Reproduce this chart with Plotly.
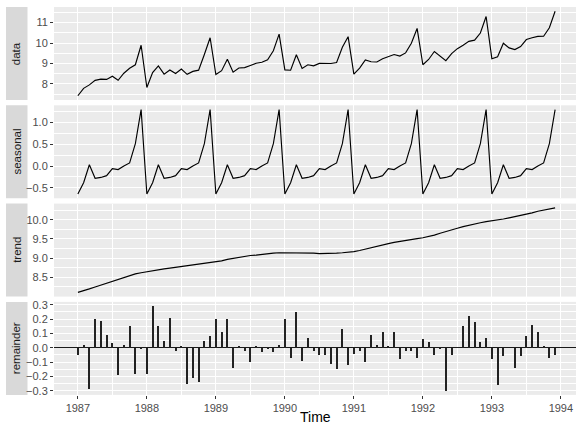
import plotly.graph_objects as go

# ---- data (monthly, Jan 1987 - Dec 1993) ----
start_year = 1987
n_months = 84
time = [start_year + i / 12 for i in range(n_months)]

data = [
    7.418, 7.782, 7.952, 8.174, 8.230, 8.220, 8.378, 8.179, 8.522, 8.768, 8.936, 9.891,
    7.824, 8.556, 8.885, 8.478, 8.683, 8.507, 8.729, 8.466, 8.612, 8.672, 9.442, 10.259,
    8.459, 8.649, 9.206, 8.576, 8.778, 8.800, 8.902, 9.009, 9.057, 9.179, 9.626, 10.436,
    8.686, 8.668, 9.427, 8.759, 8.937, 8.885, 9.002, 8.985, 8.999, 9.045, 9.793, 10.313,
    8.482, 8.775, 9.174, 9.085, 9.074, 9.231, 9.331, 9.438, 9.362, 9.518, 9.991, 10.716,
    8.938, 9.195, 9.586, 9.358, 9.141, 9.479, 9.725, 9.898, 10.083, 10.142, 10.492, 11.299,
    9.234, 9.330, 9.991, 9.762, 9.680, 9.831, 10.172, 10.261, 10.326, 10.336, 10.750, 11.559,
]

seasonal_cycle = [-0.64, -0.38, 0.03, -0.28, -0.26, -0.22, -0.06, -0.08, 0.00, 0.07, 0.51, 1.29]
seasonal = seasonal_cycle * 7

trend = [
    8.11, 8.15, 8.20, 8.25, 8.30, 8.35, 8.40, 8.45, 8.50, 8.55, 8.59, 8.62,
    8.65, 8.67, 8.70, 8.72, 8.74, 8.76, 8.78, 8.80, 8.82, 8.84, 8.87, 8.89,
    8.91, 8.93, 8.97, 9.00, 9.03, 9.05, 9.07, 9.08, 9.10, 9.12, 9.13, 9.14,
    9.14, 9.14, 9.14, 9.14, 9.13, 9.13, 9.12, 9.12, 9.12, 9.13, 9.14, 9.15,
    9.17, 9.20, 9.24, 9.28, 9.31, 9.34, 9.38, 9.41, 9.44, 9.47, 9.49, 9.51,
    9.53, 9.56, 9.60, 9.65, 9.70, 9.74, 9.78, 9.82, 9.86, 9.89, 9.92, 9.95,
    9.97, 9.99, 10.02, 10.05, 10.08, 10.11, 10.15, 10.18, 10.22, 10.25, 10.28, 10.31,
]

remainder = [
    -0.05, 0.02, -0.29, 0.20, 0.19, 0.09, 0.03, -0.19, 0.02, 0.15, -0.18, -0.01,
    -0.18, 0.29, 0.15, 0.05, 0.21, -0.02, 0.01, -0.25, -0.21, -0.24, 0.05, 0.08,
    0.20, 0.11, 0.20, -0.14, 0.01, -0.02, -0.10, 0.01, -0.03, -0.01, -0.03, 0.02,
    0.20, -0.07, 0.25, -0.09, 0.07, -0.02, -0.05, -0.05, -0.11, -0.15, 0.13, -0.12,
    -0.04, -0.02, -0.10, 0.09, 0.02, 0.11, 0.01, 0.11, -0.08, -0.02, -0.02, -0.07,
    0.06, 0.04, -0.05, -0.01, -0.30, -0.05, 0.00, 0.15, 0.22, 0.18, 0.04, 0.07,
    -0.08, -0.26, -0.06, 0.00, -0.14, -0.06, 0.08, 0.16, 0.11, 0.01, -0.07, -0.05,
]

panel_names = ["data", "seasonal", "trend", "remainder"]
x_ticks = [1987, 1988, 1989, 1990, 1991, 1992, 1993, 1994]
y_ticks = {
    "data": [8, 9, 10, 11],
    "seasonal": [-0.5, 0.0, 0.5, 1.0],
    "trend": [8.5, 9.0, 9.5, 10.0],
    "remainder": [-0.3, -0.2, -0.1, 0.0, 0.1, 0.2, 0.3],
}
y_tick_text = {
    "data": ["8", "9", "10", "11"],
    "seasonal": ["\u22120.5", "0.0", "0.5", "1.0"],
    "trend": ["8.5", "9.0", "9.5", "10.0"],
    "remainder": ["\u22120.3", "\u22120.2", "\u22120.1", "0.0", "0.1", "0.2", "0.3"],
}
y_minor = {"data": 0.5, "seasonal": 0.25, "trend": 0.25, "remainder": 0.05}

# ---- layout geometry (pixels) ----
W, H = 576, 424
panel_left, panel_right = 54, 576
tops = [7, 105.3, 203.6, 301.9]
ph = 93
strip_x0, strip_x1 = 6, 27.5

FONT = "Liberation Sans, Arial, Helvetica, sans-serif"
TICK_COL = "#4D4D4D"

fig = go.Figure()

series = {"data": data, "seasonal": seasonal, "trend": trend}
for i, name in enumerate(panel_names):
    ax = "" if i == 0 else str(i + 1)
    if name == "remainder":
        fig.add_trace(go.Bar(x=time, y=remainder, width=0.017,
                             marker=dict(color="#222222", line=dict(width=0)),
                             xaxis="x" + ax, yaxis="y" + ax, showlegend=False))
    else:
        fig.add_trace(go.Scatter(x=time, y=series[name], mode="lines",
                                 line=dict(color="black", width=1.15),
                                 xaxis="x" + ax, yaxis="y" + ax, showlegend=False))

def yrange(vals):
    lo, hi = min(vals), max(vals)
    pad = (hi - lo) * 0.05
    return [lo - pad, hi + pad]

ranges = {"data": yrange(data), "seasonal": yrange(seasonal),
          "trend": yrange(trend), "remainder": yrange(remainder)}

x_lo = start_year - (time[-1] - time[0]) * 0.05
px_per_year = 69.0
x_hi = x_lo + (panel_right - panel_left) / px_per_year

layout = dict(
    width=W, height=H,
    margin=dict(l=0, r=0, t=0, b=0, autoexpand=False),
    paper_bgcolor="white",
    plot_bgcolor="#EBEBEB",
    font=dict(family=FONT, size=11, color=TICK_COL),
    bargap=0,
    shapes=[], annotations=[],
)

for i, name in enumerate(panel_names):
    ax = "" if i == 0 else str(i + 1)
    top = tops[i]
    bottom = top + ph
    ydom = [1 - bottom / H, 1 - top / H]
    last = (i == len(panel_names) - 1)
    layout["xaxis" + ax] = dict(
        domain=[panel_left / W, panel_right / W],
        range=[x_lo, x_hi],
        anchor="y" + ax,
        automargin=False,
        tickmode="array", tickvals=x_ticks,
        ticktext=[str(t) for t in x_ticks],
        showticklabels=last,
        ticks="outside" if last else "",
        ticklen=3, tickwidth=1, tickcolor="#333333",
        tickfont=dict(size=11, color=TICK_COL, family=FONT),
        showgrid=True, gridcolor="white", gridwidth=1.1,
        minor=dict(tick0=1986.5, dtick=0.5, showgrid=True,
                   gridcolor="white", gridwidth=0.55, ticks=""),
        zeroline=False, showline=False,
        matches=None if i == 0 else "x",
    )
    layout["yaxis" + ax] = dict(
        domain=ydom,
        range=ranges[name],
        anchor="x" + ax,
        automargin=False,
        tickmode="array", tickvals=y_ticks[name], ticktext=y_tick_text[name],
        ticks="outside", ticklen=3, tickwidth=1, tickcolor="#333333",
        tickfont=dict(size=11, color=TICK_COL, family=FONT),
        showgrid=True, gridcolor="white", gridwidth=1.1,
        minor=dict(dtick=y_minor[name], tick0=0, showgrid=True,
                   gridcolor="white", gridwidth=0.55, ticks=""),
        zeroline=(name == "remainder"),
        zerolinecolor="#1a1a1a", zerolinewidth=1.1,
        showline=False,
    )
    # strip on the left
    layout["shapes"].append(dict(
        type="rect", xref="paper", yref="paper",
        x0=strip_x0 / W, x1=strip_x1 / W, y0=ydom[0], y1=ydom[1],
        fillcolor="#D9D9D9", line=dict(width=0), layer="below",
    ))
    layout["annotations"].append(dict(
        text=name, xref="paper", yref="paper",
        x=(strip_x0 + strip_x1) / 2 / W, y=(ydom[0] + ydom[1]) / 2,
        xanchor="center", yanchor="middle", textangle=-90, showarrow=False,
        font=dict(size=11.5, color="#1A1A1A", family=FONT),
    ))

layout["annotations"].append(dict(
    text="Time", xref="paper", yref="paper",
    x=(panel_left + panel_right) / 2 / W, y=1 - 417 / H,
    xanchor="center", yanchor="middle", showarrow=False,
    font=dict(size=14, color="black", family=FONT),
))

fig.update_layout(**layout)
fig.write_html(
    "out.html",
    config={"displayModeBar": False},
    post_script="document.body.style.margin='0';document.body.style.overflow='hidden';",
)
